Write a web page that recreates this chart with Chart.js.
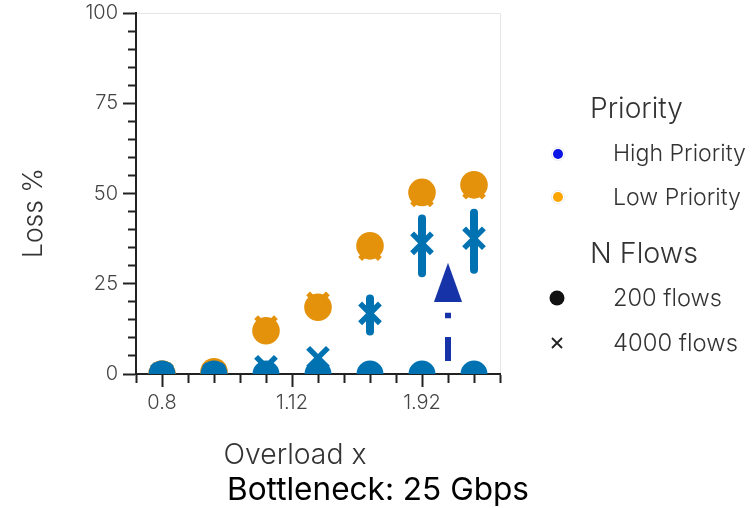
<!DOCTYPE html>
<html><head><meta charset="utf-8">
<script src="https://cdn.jsdelivr.net/npm/chart.js@4.4.1/dist/chart.umd.min.js"></script>
<style>html,body{margin:0;padding:0;background:#fff;}#wrap{position:relative;width:755px;height:508px;}</style>
</head><body><div id="wrap"><canvas id="c" width="755" height="508"></canvas></div>
<script>
// ---- data ----
const xPositions = [0, 1, 2, 3, 4, 5, 6];
const xTickValues = [0, 2.5, 5];
const xTickLabels = ['0.8', '1.12', '1.92'];
const yTickLabels = [0, 25, 50, 75, 100];
const high200 = [0, 0, 0, 0, 0, 0, 0];
const low200 = [0, 0.6, 12.0, 18.5, 35.5, 50.3, 52.4];
const high4000 = [0, 0, 2.0, 4.5, 16.8, 36.2, 37.6];
const low4000 = [0, 0.3, 13.0, 19.6, 34.6, 49.5, 51.6];
const high4000Low = [null, null, null, null, 11.8, 27.9, 28.9];
const high4000High = [null, null, null, null, 20.9, 43.1, 44.7];
const arrowX = 5.5;
const arrowStem = [3.6, 17.0];
const arrowHead = 25.4;
const legendPriority = ['High Priority', 'Low Priority'];
const legendFlows = ['200 flows', '4000 flows'];
const yTitle = 'Loss %';
const xTitle = 'Overload x';
const caption = 'Bottleneck: 25 Gbps';

// ---- styles ----
const BLUE = '#0072B2', ORANGE = '#E4920B', ARROW = '#1633A8', AXIS = '#222';
const TXT = '#333', FONT = 'Inter, "Noto Sans", sans-serif';

const pts = arr => xPositions.map((x, i) => ({x: x, y: arr[i]}));
const ranges = [];
xPositions.forEach((x, i) => {
  if (high4000Low[i] != null) {
    ranges.push({x: x, y: high4000Low[i]}, {x: x, y: high4000High[i]}, {x: x, y: null});
  }
});

const tri = document.createElement('canvas');
tri.width = 28; tri.height = 39;
(function(){ const t = tri.getContext('2d'); t.fillStyle = ARROW; t.beginPath();
  t.moveTo(14, 0); t.lineTo(28, 39); t.lineTo(0, 39); t.closePath(); t.fill(); })();

function fit(ctx, text, weight, target) {
  ctx.font = weight + ' 20px ' + FONT;
  const w = ctx.measureText(text).width;
  return 20 * target / w;
}

const overlay = {
  id: 'overlay',
  beforeDatasetsDraw(chart) {
    const ctx = chart.ctx, a = chart.chartArea;
    ctx.save();
    ctx.strokeStyle = '#e6e6e6'; ctx.lineWidth = 1;
    ctx.beginPath();
    ctx.moveTo(a.left + 1, a.top + 0.5); ctx.lineTo(a.right + 0.5, a.top + 0.5); ctx.lineTo(a.right + 0.5, a.bottom - 1);
    ctx.stroke();
    ctx.restore();
  },
  afterDraw(chart) {
    const ctx = chart.ctx;
    ctx.save();
    ctx.textBaseline = 'alphabetic';
    function txt(s, x, y, weight, target, color, align) {
      const size = fit(ctx, s, weight, target);
      ctx.font = weight + ' ' + size.toFixed(2) + 'px ' + FONT;
      ctx.fillStyle = color; ctx.textAlign = align;
      ctx.fillText(s, x, y);
    }
    // y title
    ctx.save(); ctx.translate(41.5, 213); ctx.rotate(-Math.PI / 2);
    txt(yTitle, 0, 0, '300', 90, TXT, 'center');
    ctx.restore();
    txt(xTitle, 295, 463.5, '300', 143, TXT, 'center');
    txt(caption, 378, 500, '400', 302, '#000', 'center');
    // legend
    txt('Priority', 590, 118, '300', 93, TXT, 'left');
    txt(legendPriority[0], 613, 161, '300', 133, TXT, 'left');
    txt(legendPriority[1], 613, 205, '300', 128, TXT, 'left');
    txt('N Flows', 590, 263, '300', 108, TXT, 'left');
    txt(legendFlows[0], 613, 306, '300', 109, TXT, 'left');
    txt(legendFlows[1], 613, 351, '300', 125, TXT, 'left');
    // legend markers
    [[154, '#0a14e6'], [197, '#ffa500']].forEach(([cy, col]) => {
      ctx.beginPath(); ctx.arc(558, cy, 7, 0, Math.PI * 2); ctx.fillStyle = '#e8e8e8'; ctx.fill();
      ctx.beginPath(); ctx.arc(558, cy, 6.3, 0, Math.PI * 2); ctx.fillStyle = '#fff'; ctx.fill();
      ctx.beginPath(); ctx.arc(558, cy, 5, 0, Math.PI * 2); ctx.fillStyle = col; ctx.fill();
    });
    ctx.beginPath(); ctx.arc(557, 298, 7.5, 0, Math.PI * 2); ctx.fillStyle = '#111'; ctx.fill();
    ctx.strokeStyle = '#222'; ctx.lineWidth = 1.8;
    ctx.beginPath(); ctx.moveTo(552, 338); ctx.lineTo(562, 348); ctx.moveTo(562, 338); ctx.lineTo(552, 348); ctx.stroke();
    ctx.restore();
  }
};

const tickFont = {family: FONT, size: 20, weight: '300'};

new Chart(document.getElementById('c'), {
  type: 'scatter',
  data: {
    datasets: [
      {label: 'High Priority · 200 flows', data: pts(high200), pointStyle: 'circle', pointRadius: 13.5,
       pointBackgroundColor: BLUE, pointBorderWidth: 0, order: 1, clip: 0},
      {label: 'High Priority · 4000 flows', data: pts(high4000), pointStyle: 'crossRot', pointRadius: 14,
       pointBorderColor: BLUE, pointBorderWidth: 5.5, order: 2, clip: 0},
      {type: 'line', label: 'High Priority · 4000 flows spread', data: ranges, borderColor: BLUE, borderWidth: 8,
       borderCapStyle: 'round', pointRadius: 0, spanGaps: false, order: 3},
      {label: 'Low Priority · 200 flows', data: pts(low200), pointStyle: 'circle', pointRadius: 13.8,
       pointBackgroundColor: ORANGE, pointBorderWidth: 0, order: 4, clip: 0},
      {label: 'Low Priority · 4000 flows', data: pts(low4000), pointStyle: 'crossRot', pointRadius: 14,
       pointBorderColor: ORANGE, pointBorderWidth: 5.5, order: 5, clip: 0},
      {type: 'line', label: 'arrow', data: arrowStem.map(v => ({x: arrowX, y: v})), borderColor: ARROW, borderWidth: 6,
       borderDash: [24, 18.7, 5.6, 18.7], borderCapStyle: 'butt', pointRadius: 0, order: 6},
      {label: 'arrow head', data: [{x: arrowX, y: arrowHead}], pointStyle: tri, pointRadius: 14, order: 7}
    ]
  },
  options: {
    responsive: false, animation: false, events: [], devicePixelRatio: 1,
    layout: {autoPadding: false, padding: {left: 0, top: 13, right: 255, bottom: 0}},
    plugins: {legend: {display: false}, tooltip: {enabled: false}},
    scales: {
      x: {type: 'linear', min: -0.5, max: 6.5, offset: false,
        afterFit: s => { s.height = 134; s.paddingLeft = 0; s.paddingRight = 0; },
        ticks: {stepSize: 0.5, autoSkip: false, maxRotation: 0, padding: 4, color: '#444', font: tickFont,
          callback: v => { const k = xTickValues.indexOf(v); return k >= 0 ? xTickLabels[k] : ''; }},
        grid: {drawOnChartArea: false, offset: false, tickLength: 13, tickWidth: 2, tickColor: AXIS,
          tickBorderDash: c => (c.tick && xTickValues.includes(c.tick.value)) ? [] : [8, 100]},
        border: {display: true, color: AXIS, width: 2}},
      y: {type: 'linear', min: 0, max: 100,
        afterFit: s => { s.width = 136; s.paddingTop = 0; s.paddingBottom = 0; },
        ticks: {stepSize: 5, autoSkip: false, padding: 5, color: '#444', font: tickFont,
          callback: v => yTickLabels.includes(v) ? String(v) : ''},
        grid: {drawOnChartArea: false, tickLength: 13, tickWidth: 2, tickColor: AXIS,
          tickBorderDash: c => (c.tick && yTickLabels.includes(c.tick.value)) ? [] : [0, 5, 8, 100]},
        border: {display: true, color: AXIS, width: 2}}
    }
  },
  plugins: [overlay]
});
</script></body></html>
